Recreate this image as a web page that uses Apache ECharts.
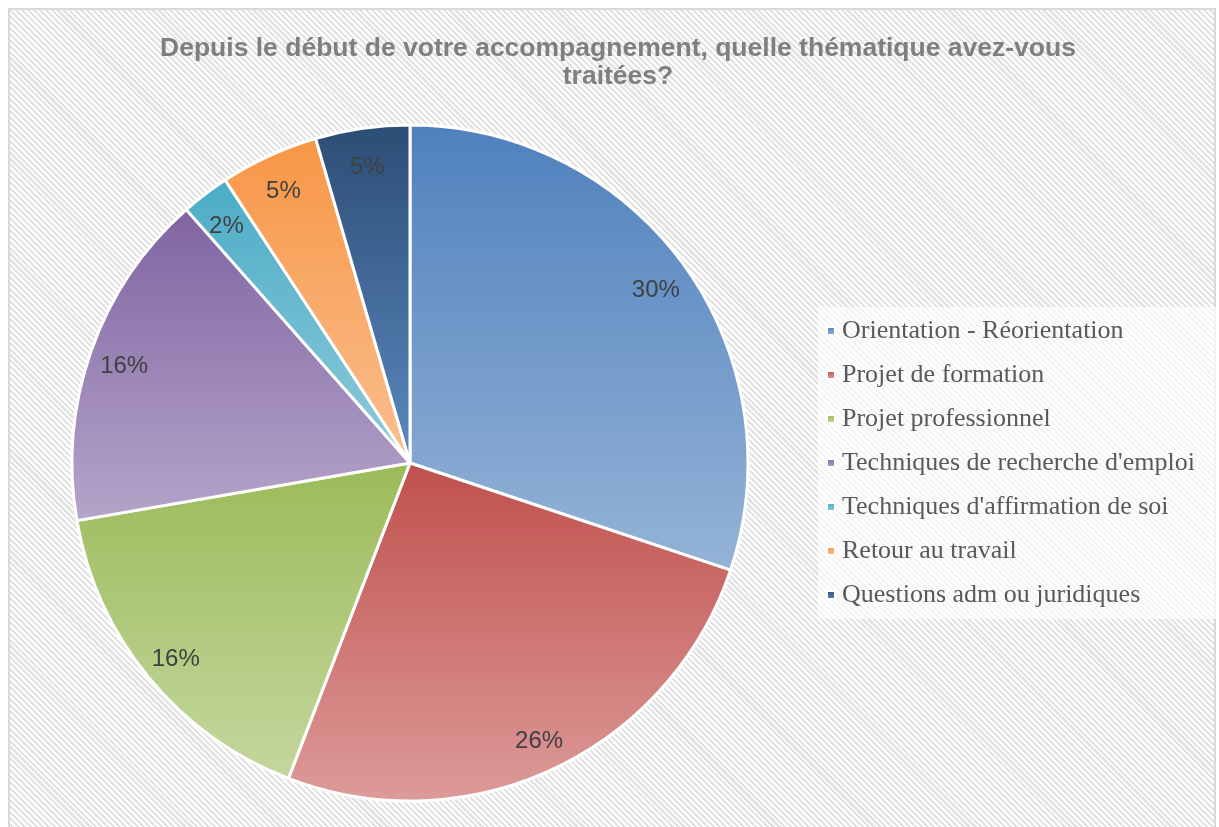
<!DOCTYPE html>
<html>
<head>
<meta charset="utf-8">
<script src="https://cdn.jsdelivr.net/npm/echarts@6/dist/echarts.min.js"></script>
<style>
  html, body { margin: 0; padding: 0; background: #fff; }
  #frame {
    position: absolute; left: 8px; top: 8px; width: 1204px; height: 830px;
    border: 2px solid #d9d9d9;
    background: repeating-linear-gradient(45deg, #ffffff 0px, #ffffff 2px, #e3e3e3 2px, #e3e3e3 4.2px);
  }
  #main { position: absolute; left: 0; top: 0; width: 1219px; height: 827px; }
</style>
</head>
<body>
<div id="frame"></div>
<div id="main"></div>
<script>
var categories = [
  'Orientation - Réorientation',
  'Projet de formation',
  'Projet professionnel',
  "Techniques de recherche d'emploi",
  "Techniques d'affirmation de soi",
  'Retour au travail',
  'Questions adm ou juridiques'
];
var values = [30.1, 25.7, 16.4, 16.2, 2.3, 4.7, 4.5];
var topColors = ['#4f81bd', '#c0504d', '#9bbb59', '#8064a2', '#4bacc6', '#f79646', '#2c4d75'];
var bottomColors = ['#95b3d7', '#dc9b99', '#c4d79e', '#b5a5c9', '#8fcbdb', '#fabf8f', '#5b89bf'];

function grad(i) {
  return {
    type: 'linear', x: 0, y: 0, x2: 0, y2: 1,
    colorStops: [{ offset: 0, color: topColors[i] }, { offset: 1, color: bottomColors[i] }]
  };
}

var chart = echarts.init(document.getElementById('main'));

var pieData = categories.map(function (c, i) {
  return { name: c, value: values[i], itemStyle: { color: grad(i) } };
});
var labelData = categories.map(function (c, i) {
  return { name: c, value: values[i], itemStyle: { color: 'rgba(0,0,0,0)' } };
});

chart.setOption({
  backgroundColor: 'transparent',
  title: {
    text: 'Depuis le début de votre accompagnement, quelle thématique avez-vous\ntraitées?',
    left: 613,
    textAlign: 'center',
    top: 30,
    textStyle: {
      fontFamily: 'Liberation Sans',
      fontSize: 26.5,
      fontWeight: 'bold',
      color: '#7f7f7f',
      lineHeight: 28
    }
  },
  legend: {
    orient: 'vertical',
    left: 818,
    top: 307,
    padding: [11, 40, 11, 8],
    backgroundColor: 'rgba(255,255,255,0.65)',
    icon: 'rect',
    itemWidth: 8,
    itemHeight: 8,
    itemGap: 18,
    data: categories,
    textStyle: {
      fontFamily: 'Liberation Serif',
      fontSize: 26,
      lineHeight: 26,
      color: '#595959',
      padding: [0, 0, 0, 2]
    }
  },
  series: [
    {
      type: 'pie',
      center: [410, 463],
      radius: 338,
      startAngle: 90,
      clockwise: true,
      avoidLabelOverlap: false,
      itemStyle: { borderColor: '#ffffff', borderWidth: 3 },
      label: { show: false },
      labelLine: { show: false },
      emphasis: { disabled: true },
      data: pieData
    },
    {
      type: 'pie',
      center: [410, 463],
      radius: [262, 338],
      startAngle: 90,
      clockwise: true,
      silent: true,
      avoidLabelOverlap: false,
      percentPrecision: 0,
      label: {
        show: true,
        position: 'inside',
        formatter: '{d}%',
        fontFamily: 'Liberation Sans',
        fontSize: 24,
        color: '#404040',
        offset: [0, 4]
      },
      labelLine: { show: false },
      emphasis: { disabled: true },
      data: labelData
    }
  ]
});

window.addEventListener('resize', function () {
  chart.resize();
});
</script>
</body>
</html>
